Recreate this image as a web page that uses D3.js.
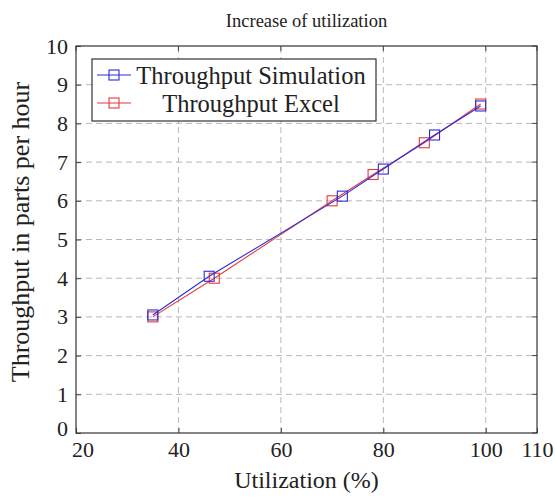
<!DOCTYPE html>
<html><head><meta charset="utf-8">
<script src="https://cdn.jsdelivr.net/npm/d3@7"></script>
<style>body{margin:0;background:#fff}svg{display:block}</style>
</head><body>
<script>
const simX = [35, 46, 72, 80, 90, 99];
const simY = [3.05, 4.05, 6.12, 6.82, 7.7, 8.45];
const excelX = [35, 47, 70, 78, 88, 99];
const excelY = [3.0, 4.0, 6.0, 6.68, 7.5, 8.5];
const xTicks = [20, 40, 60, 80, 100, 110];
const yTicks = [0,1,2,3,4,5,6,7,8,9,10];
const seriesNames = ["Throughput Simulation", "Throughput Excel"];
const seriesColors = ["#2b2bdc", "#e23b3b"];
const title = "Increase of utilization";
const xLabel = "Utilization (%)";
const yLabel = "Throughput in parts per hour";

const FONT = "'Liberation Serif', 'Times New Roman', 'DejaVu Serif', serif";
const W = 555, H = 498;
const L = 76, R = 537, T = 46, B = 433;
const svg = d3.select("body").append("svg").attr("width", W).attr("height", H)
  .style("font-family", FONT);
const x = d3.scaleLinear().domain([20, 110]).range([L, R]);
const y = d3.scaleLinear().domain([0, 10]).range([B, T]);

const grid = svg.append("g").attr("stroke", "#b8b8b8").attr("stroke-dasharray", "6,4").attr("stroke-width", 1);
xTicks.filter(v => v > 20 && v < 110).forEach(v => grid.append("line").attr("x1", x(v)).attr("x2", x(v)).attr("y1", B).attr("y2", T));
yTicks.filter(v => v > 0 && v < 10).forEach(v => grid.append("line").attr("y1", y(v)).attr("y2", y(v)).attr("x1", L).attr("x2", R));

const xAxis = d3.axisBottom(x).tickValues(xTicks).tickSizeInner(-5).tickSizeOuter(0).tickPadding(8);
const yAxis = d3.axisLeft(y).tickValues(yTicks).tickSizeInner(-5).tickSizeOuter(0).tickPadding(8);
const gx = svg.append("g").attr("transform", `translate(0,${B})`).call(xAxis);
const gy = svg.append("g").attr("transform", `translate(${L},0)`).call(yAxis);
[gx, gy].forEach(g => {
  g.attr("font-family", null).attr("font-size", null);
  g.select(".domain").remove();
  g.selectAll("line").attr("stroke", "#444");
  g.selectAll("text").attr("fill", "#222").style("font-family", FONT).style("font-size", "22px");
});
gy.selectAll(".tick").filter(d => d === 0).select("text").attr("dy", "0.1em");
gx.selectAll(".tick").filter(d => d === 20).select("text").attr("dx", "0.3em");
const tt = svg.append("g").attr("stroke", "#444");
xTicks.forEach(v => tt.append("line").attr("x1", x(v)).attr("x2", x(v)).attr("y1", T).attr("y2", T + 5));
yTicks.forEach(v => tt.append("line").attr("y1", y(v)).attr("y2", y(v)).attr("x1", R).attr("x2", R - 5));
svg.append("rect").attr("x", L).attr("y", T).attr("width", R - L).attr("height", B - T)
  .attr("fill", "none").attr("stroke", "#333").attr("stroke-width", 1.2);

const series = [simX.map((v, i) => [v, simY[i]]), excelX.map((v, i) => [v, excelY[i]])];
const line = d3.line().x(d => x(d[0])).y(d => y(d[1]));
const ms = 10;
[1, 0].forEach(k => {
  svg.append("path").datum(series[k]).attr("d", line).attr("fill", "none")
    .attr("stroke", seriesColors[k]).attr("stroke-width", 1.1);
  svg.append("g").selectAll("rect").data(series[k]).join("rect")
    .attr("x", d => x(d[0]) - ms / 2).attr("y", d => y(d[1]) - ms / 2)
    .attr("width", ms).attr("height", ms).attr("fill", "none")
    .attr("stroke", seriesColors[k]).attr("stroke-width", 1.1);
});

const lg = svg.append("g");
lg.append("rect").attr("x", 92).attr("y", 59).attr("width", 284).attr("height", 62)
  .attr("fill", "#fff").attr("stroke", "#333").attr("stroke-width", 1.2);
seriesNames.forEach((name, i) => {
  const cy = 75 + i * 28;
  lg.append("line").attr("x1", 97).attr("x2", 131).attr("y1", cy).attr("y2", cy)
    .attr("stroke", seriesColors[i]).attr("stroke-width", 1.1);
  lg.append("rect").attr("x", 114 - ms / 2).attr("y", cy - ms / 2).attr("width", ms).attr("height", ms)
    .attr("fill", "none").attr("stroke", seriesColors[i]).attr("stroke-width", 1.1);
  lg.append("text").attr("x", 251).attr("y", cy).attr("dy", "0.35em").attr("text-anchor", "middle")
    .style("font-size", "24.5px").attr("fill", "#222").text(name);
});

svg.append("text").attr("x", (L + R) / 2).attr("y", 27).attr("text-anchor", "middle").style("font-size", "18.5px").attr("fill", "#222").text(title);
svg.append("text").attr("x", (L + R) / 2).attr("y", 488).attr("text-anchor", "middle").style("font-size", "24px").attr("fill", "#222").text(xLabel);
svg.append("text").attr("transform", `translate(29,232) rotate(-90)`).attr("text-anchor", "middle")
  .style("font-size", "26px").attr("fill", "#222").text(yLabel);
</script>
</body></html>
